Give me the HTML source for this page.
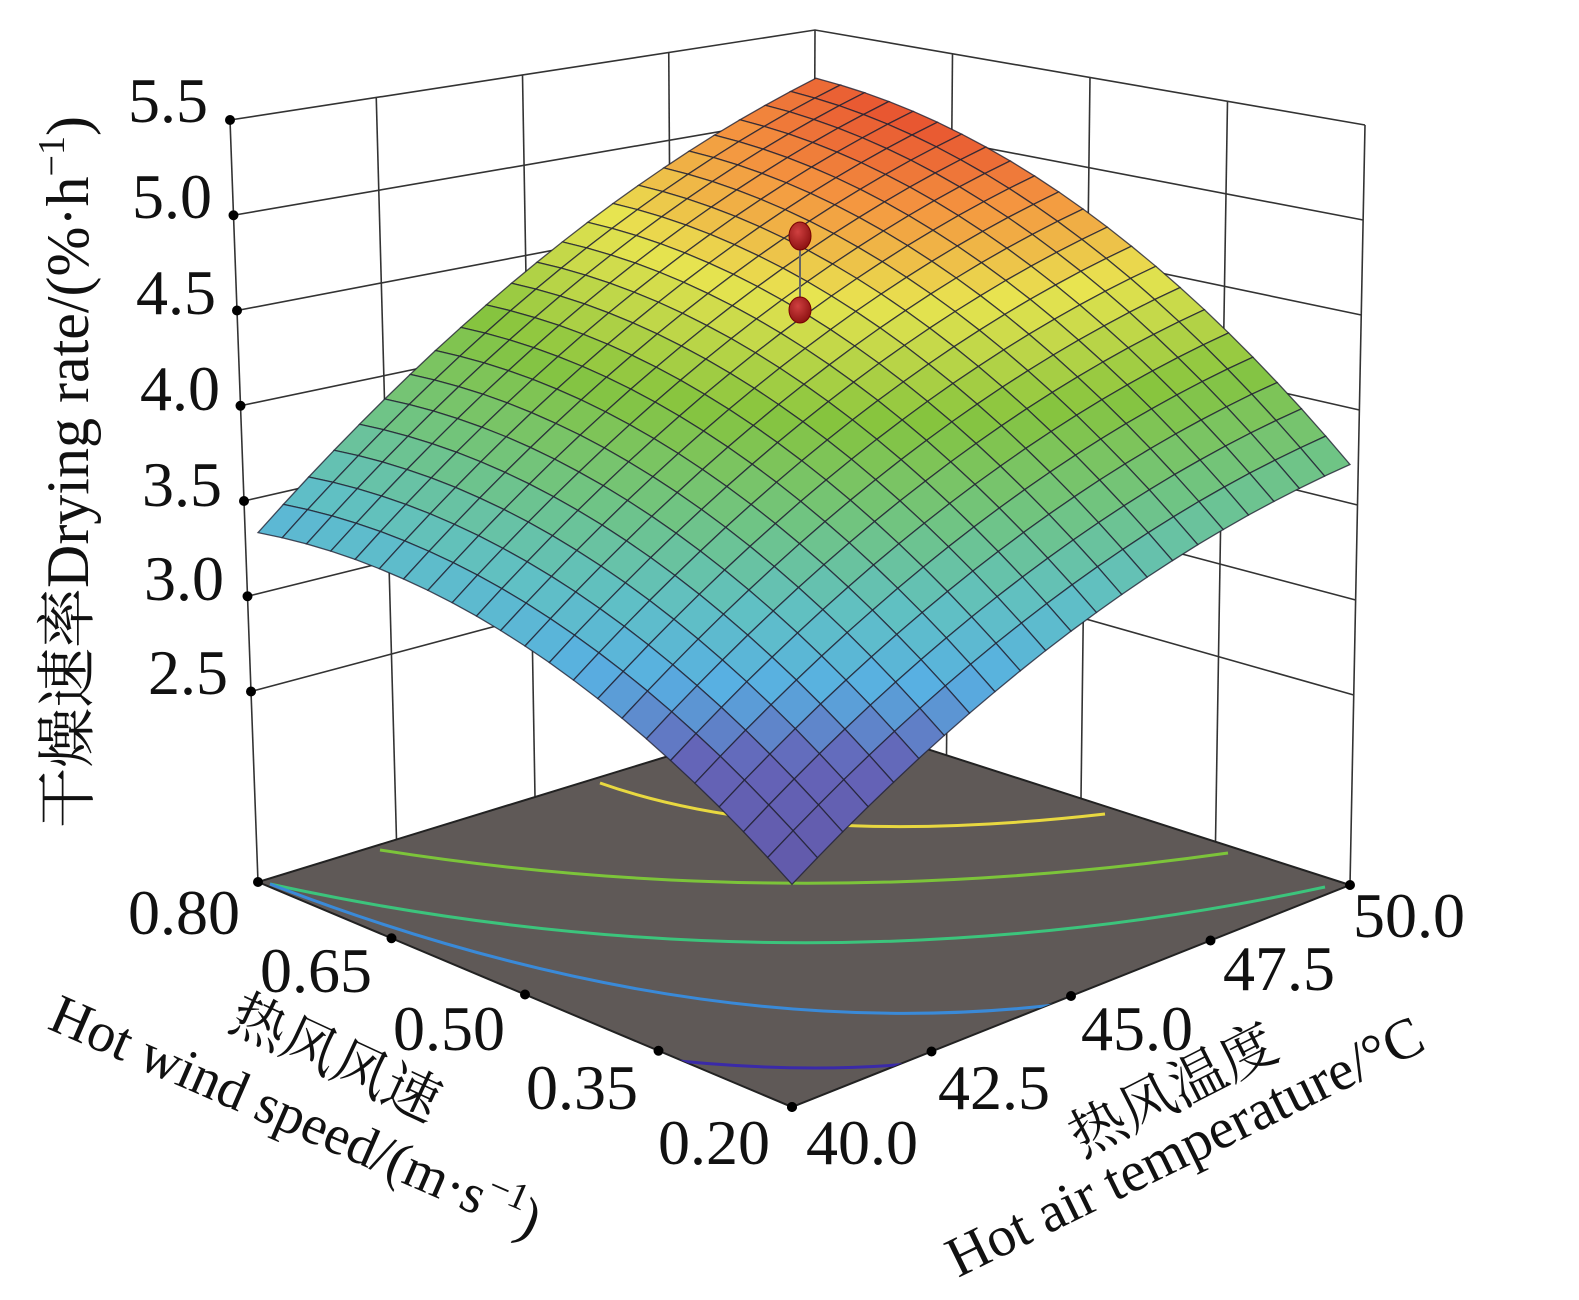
<!DOCTYPE html>
<html><head><meta charset="utf-8"><style>
html,body{margin:0;padding:0;background:#fff;}
svg{display:block;}
text{font-family:"Liberation Serif","Noto Serif CJK SC",serif;fill:#111;}
</style></head><body>
<svg id="s" width="1579" height="1300" viewBox="0 0 1579 1300" xmlns="http://www.w3.org/2000/svg">
<defs><clipPath id="fl"><polygon points="258,882 792,1107 1350,885 812,712"/></clipPath>
<radialGradient id="rd" cx="40%" cy="35%" r="70%"><stop offset="0" stop-color="#d04040"/><stop offset="1" stop-color="#8a1010"/></radialGradient></defs>
<g id="walls" stroke="#333" stroke-width="1.6" fill="none"></g>
<polygon points="258,882 792,1107 1350,885 812,712" fill="#5f5957" stroke="#222" stroke-width="2"/>
<g clip-path="url(#fl)" fill="none" stroke-width="3">
<path d="M600,783 Q790,850 1105,814" stroke="#e8d840"/>
<path d="M380,850 Q790,915 1228,853" stroke="#7cc43a"/>
<path d="M270,884 Q800,1000 1325,887" stroke="#3cc47c"/>
<path d="M270,884 Q700,1050 1071,1003" stroke="#3a8ad8"/>
<path d="M650,1058 Q800,1075 919,1063" stroke="#3a2aa8"/>
</g>
<g id="surf"></g>
<g id="ax"></g>
<line x1="800" y1="240" x2="800" y2="310" stroke="#666" stroke-width="2"/>
<ellipse cx="800" cy="236" rx="11" ry="14" fill="url(#rd)" stroke="#700" stroke-width="1"/>
<ellipse cx="800" cy="310" rx="11" ry="13" fill="url(#rd)" stroke="#700" stroke-width="1"/>
<g font-size="64">
<text x="128" y="122">5.5</text>
<text x="132" y="218">5.0</text>
<text x="136" y="314">4.5</text>
<text x="140" y="410">4.0</text>
<text x="142" y="506">3.5</text>
<text x="144" y="600">3.0</text>
<text x="148" y="694">2.5</text>
<text x="128" y="934">0.80</text>
<text x="260" y="992">0.65</text>
<text x="393" y="1050">0.50</text>
<text x="526" y="1109">0.35</text>
<text x="658" y="1164">0.20</text>
<text x="806" y="1164">40.0</text>
<text x="938" y="1109">42.5</text>
<text x="1081" y="1050">45.0</text>
<text x="1223" y="990">47.5</text>
<text x="1353" y="937">50.0</text>
</g>
<text font-size="60" transform="translate(88,828) rotate(-90)">干燥速率Drying rate/(%·h<tspan dy="-24" font-size="38">−1</tspan><tspan dy="24">)</tspan></text>
<text font-size="56" transform="translate(226,1028) rotate(25)">热风风速</text>
<text font-size="56" transform="translate(46,1028) rotate(23.5)">Hot wind speed/(m·s<tspan dy="-22" font-size="38">−1</tspan><tspan dy="22">)</tspan></text>
<text font-size="56" transform="translate(1082,1158) rotate(-27)">热风温度</text>
<text font-size="57" transform="translate(958,1278) rotate(-26)">Hot air temperature/°C</text>
</svg>
<script>
(function(){
var NS="http://www.w3.org/2000/svg";
function el(p,t,a){var e=document.createElementNS(NS,t);for(var k in a)e.setAttribute(k,a[k]);p.appendChild(e);return e;}
var walls=document.getElementById('walls');
function lerp(a,b,t){return [a[0]+(b[0]-a[0])*t,a[1]+(b[1]-a[1])*t];}
var LB=[258,882],LT=[230,120],BB=[812,712],BT=[815,30],RB=[1350,885],RT=[1365,125];
var zs=[2.5,3,3.5,4,4.5,5,5.5];
function wallPt(bot,top,z){return lerp(bot,top,(z-1.5)/4);}
zs.forEach(function(z){
 var a=wallPt(LB,LT,z),b=wallPt(BB,BT,z),c=wallPt(RB,RT,z);
 el(walls,'polyline',{points:a+' '+b+' '+c});
});
el(walls,'polyline',{points:LB+' '+LT});el(walls,'polyline',{points:BB+' '+BT});el(walls,'polyline',{points:RB+' '+RT});
[0.25,0.5,0.75].forEach(function(t){
 var b1=lerp(LB,BB,t),t1=lerp(LT,BT,t);el(walls,'line',{x1:b1[0],y1:b1[1],x2:t1[0],y2:t1[1]});
 var b2=lerp(BB,RB,t),t2=lerp(BT,RT,t);el(walls,'line',{x1:b2[0],y1:b2[1],x2:t2[0],y2:t2[1]});
});
var F=[792,1107],L=[258,882],R=[1350,885];
function zf(u,v){var z00=2.66,z10=3.32,z01=3.69,z11=4.53;
 return z00*(1-u)*(1-v)+z10*u*(1-v)+z01*(1-u)*v+z11*u*v+1.3*u*(1-u)+0.9*v*(1-v);}
function P(u,v,z){return [F[0]+u*(L[0]-F[0])+v*(R[0]-F[0]), F[1]+u*(L[1]-F[1])+v*(R[1]-F[1])-(z-1.5)*192];}
var stops=[[0,[98,88,168]],[0.2,[100,100,184]],[0.32,[88,176,226]],[0.43,[96,192,196]],[0.56,[112,196,130]],[0.7,[134,196,62]],[0.84,[232,228,80]],[0.93,[244,150,64]],[1,[228,64,44]]];
function col(z){var t=(z-2.66)/(4.6-2.66);t=Math.max(0,Math.min(1,t));
 for(var i=1;i<stops.length;i++){if(t<=stops[i][0]){var a=stops[i-1],b=stops[i],f=(t-a[0])/(b[0]-a[0]);
 return 'rgb('+[0,1,2].map(function(k){return Math.round(a[1][k]+(b[1][k]-a[1][k])*f)}).join(',')+')';}}
 return 'rgb(228,64,44)';}
var N=22,q=[];
for(var i=0;i<N;i++)for(var j=0;j<N;j++){
 var u0=i/N,u1=(i+1)/N,v0=j/N,v1=(j+1)/N;
 var pts=[P(u0,v0,zf(u0,v0)),P(u1,v0,zf(u1,v0)),P(u1,v1,zf(u1,v1)),P(u0,v1,zf(u0,v1))];
 q.push({d:u0+v0,pts:pts,z:zf((u0+u1)/2,(v0+v1)/2)});
}
q.sort(function(a,b){return b.d-a.d;});
var s=document.getElementById('surf');
q.forEach(function(o){el(s,'polygon',{points:o.pts.map(function(p){return p[0].toFixed(1)+','+p[1].toFixed(1)}).join(' '),fill:col(o.z),stroke:'#222233','stroke-width':'1.3','stroke-opacity':'0.8'});});
var ax=document.getElementById('ax');
for(var k=0;k<=4;k++){var a=lerp(F,L,k/4),b=lerp(F,R,k/4);
 el(ax,'circle',{cx:a[0],cy:a[1],r:5,fill:'#000'});el(ax,'circle',{cx:b[0],cy:b[1],r:5,fill:'#000'});}
zs.forEach(function(z){var a=wallPt(LB,LT,z);el(ax,'circle',{cx:a[0],cy:a[1],r:5,fill:'#000'});});
})();
</script>
</body></html>
